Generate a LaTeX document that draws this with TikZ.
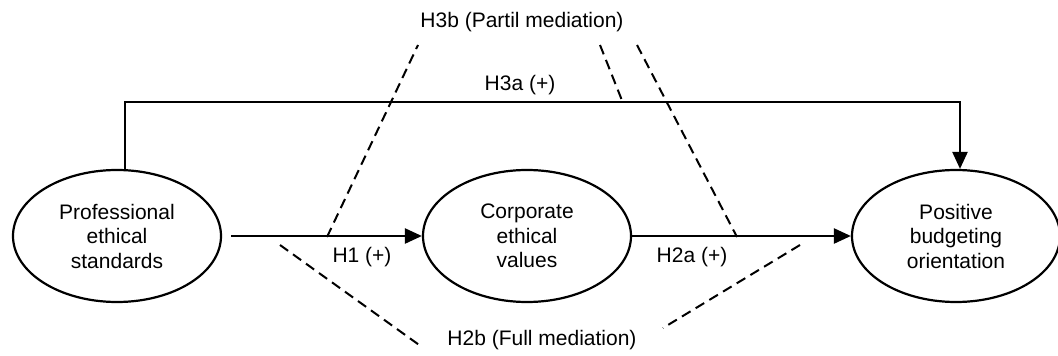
\documentclass[tikz,border=0pt]{standalone}
\usepackage{fontspec}
\setmainfont{Liberation Sans}
\usetikzlibrary{arrows.meta,shapes.geometric}

\begin{document}
\begin{tikzpicture}[x=1pt, y=-1pt,
    construct/.style={draw, line width=2.2pt, ellipse, minimum width=208pt, minimum height=132pt,
        align=center, inner sep=0pt, font=\fontsize{21}{24.5}\selectfont},
    effect/.style={line width=2.4pt, -{Triangle[length=17pt,width=15pt]}},
    link/.style={line width=2pt, dash pattern=on 10pt off 6pt},
    hyp/.style={font=\fontsize{21}{24}\selectfont, inner sep=0pt}]
    \useasboundingbox (0,0) rectangle (1058,356);
    % constructs
    \node[construct] (prof) at (117,236) {Professional\\ethical\\standards};
    \node[construct] (corp) at (527,236) {Corporate\\ethical\\values};
    \node[construct] (pos) at (956,236) {Positive\\budgeting\\orientation};
    % direct paths
    \draw[effect] ([xshift=9pt]prof.east) -- (corp.west);
    \draw[effect] (corp.east) -- (pos.west);
    \draw[effect] ([xshift=8pt]prof.north) -- ++(0,-67) -| ([xshift=4pt]pos.north);
    % mediation wedges
    \coordinate (a1) at (327,237);  \coordinate (a2) at (418,45);
    \coordinate (b1) at (600,45);   \coordinate (b2) at (623,103);
    \coordinate (c1) at (637,45);   \coordinate (c2) at (737,237);
    \coordinate (d1) at (280,245);  \coordinate (d2) at (422,347);
    \coordinate (e1) at (800,245);  \coordinate (e2) at (663,328);
    \draw[link] (a1) -- (a2);
    \draw[link] (b1) -- (b2);
    \draw[link] (c1) -- (c2);
    \draw[link] (d1) -- (d2);
    \draw[link] (e1) -- (e2);
    % labels
    \node[hyp] (h3b) at (522,22) {H3b (Partil mediation)};
    \node[hyp] (h3a) at (520,85) {H3a (+)};
    \node[hyp] (h1) at (362,257) {H1 (+)};
    \node[hyp] (h2a) at (692,257) {H2a (+)};
    \node[hyp] (h2b) at (542,340) {H2b (Full mediation)};
\end{tikzpicture}
\end{document}
